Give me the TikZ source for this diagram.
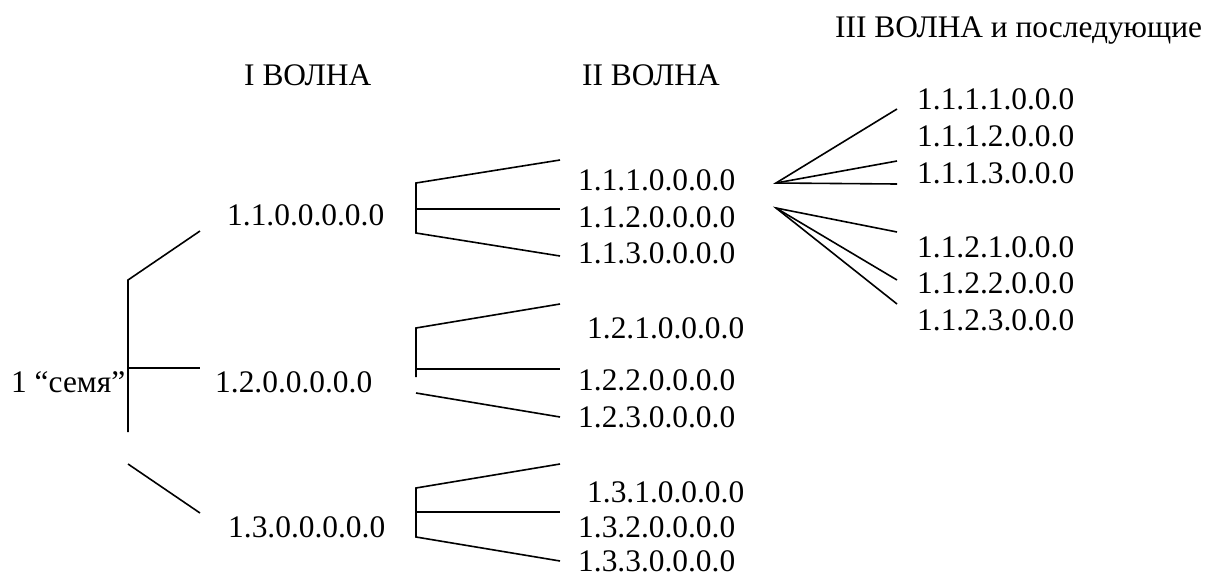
\documentclass[tikz,border=0pt]{standalone}
\usepackage{fontspec}
\setmainfont{Liberation Serif}
\begin{document}
\begin{tikzpicture}[x=1pt,y=-1pt,
  lbl/.style={anchor=base west,inner sep=0pt,text depth=0pt,font=\fontsize{31.4}{36}\selectfont},
  branch/.style={line width=1.6pt}]
\useasboundingbox (0,0) rectangle (1217,576);

% headings
\node[lbl] (h1) at (244,85) {I ВОЛНА};
\node[lbl] (h2) at (582,85) {II ВОЛНА};
\node[lbl] (h3) at (835,37) {III ВОЛНА и последующие};

% root and first wave
\node[lbl] (root) at (11,392) {1 “семя”};
\node[lbl] (n11) at (227,225) {1.1.0.0.0.0.0};
\node[lbl] (n12) at (215,392) {1.2.0.0.0.0.0};
\node[lbl] (n13) at (228,537) {1.3.0.0.0.0.0};

% second wave
\node[lbl] (n111) at (578,190) {1.1.1.0.0.0.0};
\node[lbl] (n112) at (578,227) {1.1.2.0.0.0.0};
\node[lbl] (n113) at (578,263) {1.1.3.0.0.0.0};
\node[lbl] (n121) at (587,338) {1.2.1.0.0.0.0};
\node[lbl] (n122) at (578,390) {1.2.2.0.0.0.0};
\node[lbl] (n123) at (578,427) {1.2.3.0.0.0.0};
\node[lbl] (n131) at (587,502) {1.3.1.0.0.0.0};
\node[lbl] (n132) at (578,537) {1.3.2.0.0.0.0};
\node[lbl] (n133) at (578,571) {1.3.3.0.0.0.0};

% third wave
\node[lbl] (n1111) at (917,109) {1.1.1.1.0.0.0};
\node[lbl] (n1112) at (917,146) {1.1.1.2.0.0.0};
\node[lbl] (n1113) at (917,183) {1.1.1.3.0.0.0};
\node[lbl] (n1121) at (917,257) {1.1.2.1.0.0.0};
\node[lbl] (n1122) at (917,293) {1.1.2.2.0.0.0};
\node[lbl] (n1123) at (917,330) {1.1.2.3.0.0.0};

% bracket points
\coordinate (r0) at (128,280);
\coordinate (r1) at (128,368);
\coordinate (r2) at (128,432);
\coordinate (r3) at (128,464);
\coordinate (ra) at (200,231);
\coordinate (rb) at (200,368);
\coordinate (rc) at (200,513);

\coordinate (a0) at (416,183);
\coordinate (a1) at (416,209);
\coordinate (a2) at (416,233);
\coordinate (aa) at (560,160);
\coordinate (ab) at (560,209);
\coordinate (ac) at (560,256);

\coordinate (b0) at (416,328);
\coordinate (b1) at (416,369);
\coordinate (b2) at (416,377);
\coordinate (b3) at (416,393);
\coordinate (ba) at (560,304);
\coordinate (bb) at (560,369);
\coordinate (bc) at (560,417);

\coordinate (c0) at (416,488);
\coordinate (c1) at (416,512);
\coordinate (c2) at (416,537);
\coordinate (ca) at (560,464);
\coordinate (cb) at (560,512);
\coordinate (cc) at (560,561);

\coordinate (f1) at (776,183);
\coordinate (f1a) at (897,109);
\coordinate (f1b) at (897,161);
\coordinate (f1c) at (897,184);
\coordinate (f2) at (776,208);
\coordinate (f2a) at (897,232);
\coordinate (f2b) at (897,280);
\coordinate (f2c) at (897,304);

% root bracket
\draw[branch] (ra) -- (r0) -- (r2);
\draw[branch] (r1) -- (rb);
\draw[branch] (r3) -- (rc);

% 1.1 bracket
\draw[branch] (aa) -- (a0) -- (a2) -- (ac);
\draw[branch] (a1) -- (ab);

% 1.2 bracket
\draw[branch] (ba) -- (b0) -- (b2);
\draw[branch] (b1) -- (bb);
\draw[branch] (b3) -- (bc);

% 1.3 bracket
\draw[branch] (ca) -- (c0) -- (c2) -- (cc);
\draw[branch] (c1) -- (cb);

% fans
\draw[branch] (f1a) -- (f1) -- (f1c);
\draw[branch] (f1) -- (f1b);
\draw[branch] (f2a) -- (f2) -- (f2c);
\draw[branch] (f2) -- (f2b);
\end{tikzpicture}
\end{document}
